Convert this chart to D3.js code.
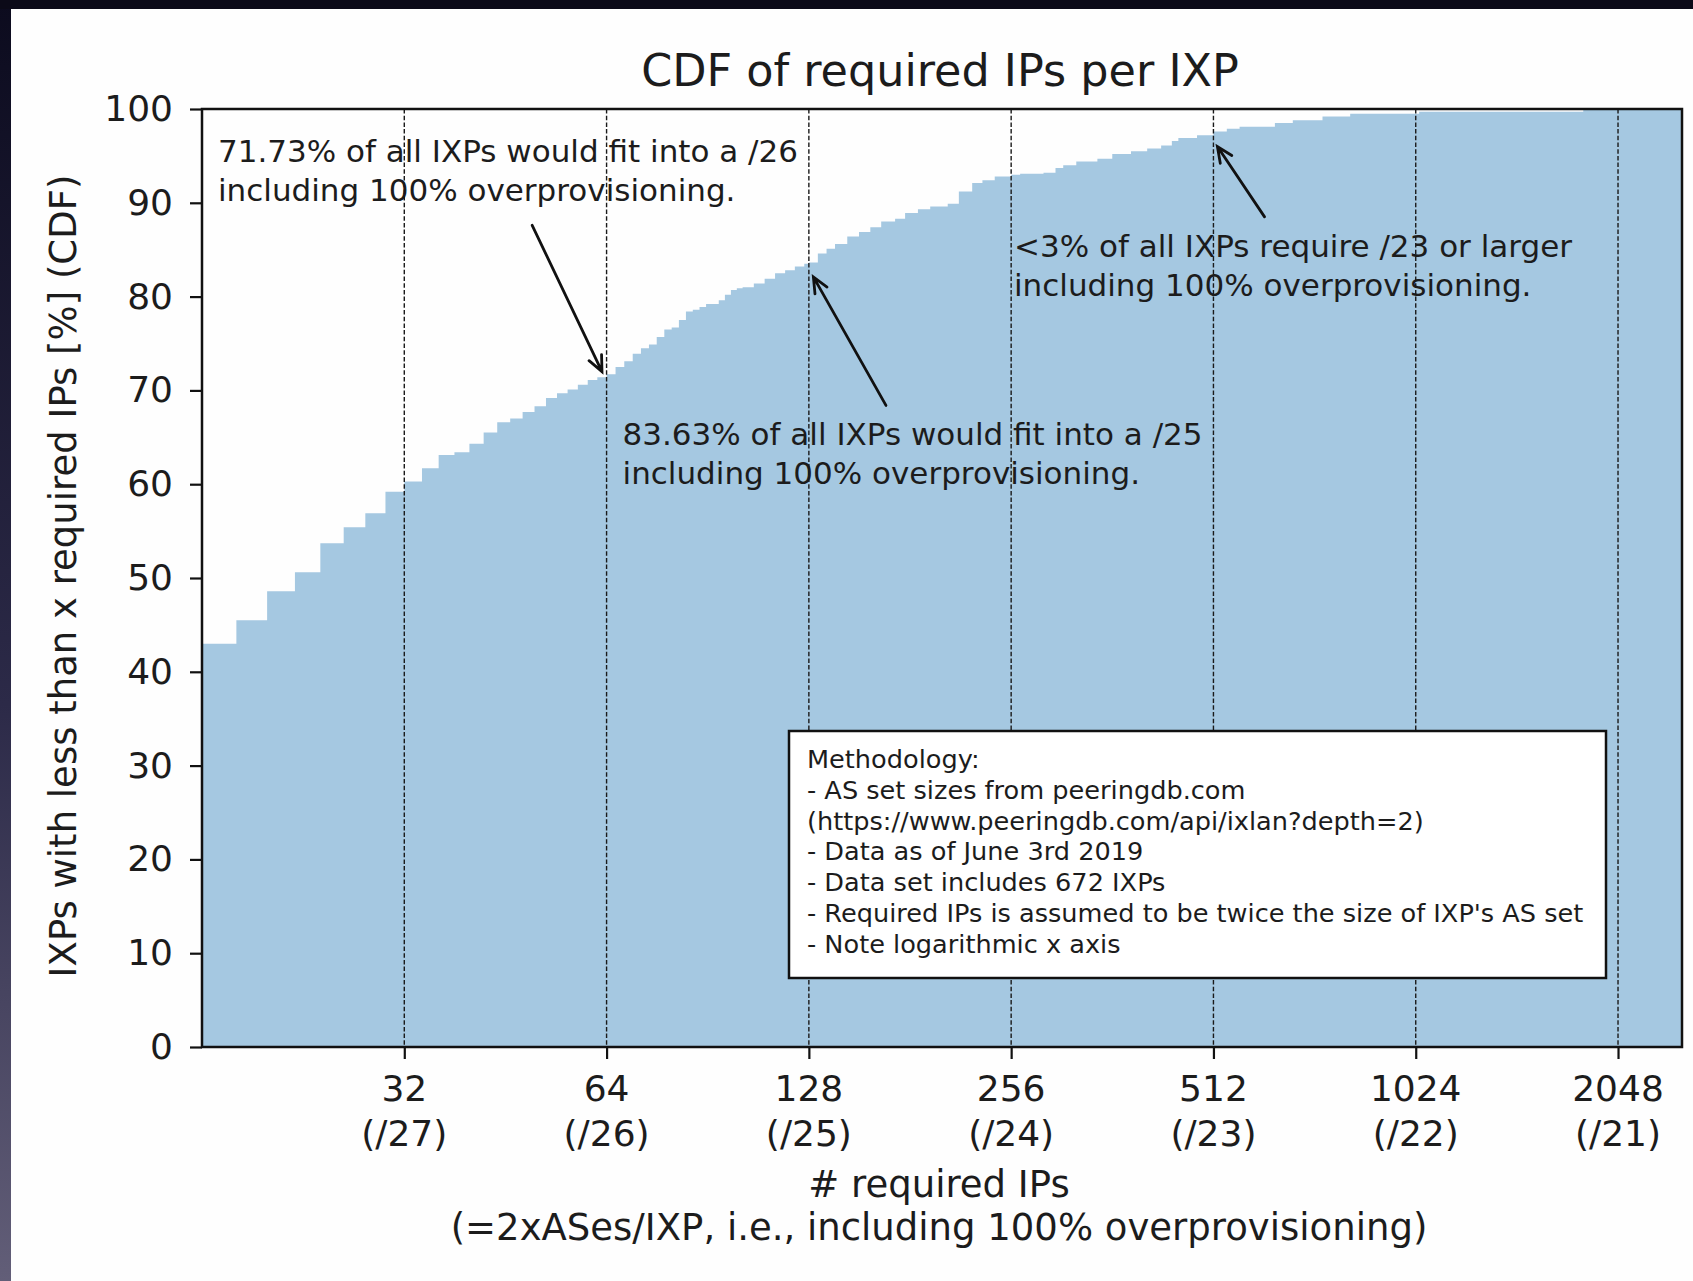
<!DOCTYPE html>
<html><head><meta charset="utf-8">
<script src="https://cdn.jsdelivr.net/npm/d3@7"></script>
<style>
body{margin:0;background:#fff}
svg{display:block}
text{font-family:"DejaVu Sans",sans-serif;fill:#1c1c1c}
</style>
</head><body>
<svg id="c" width="1693" height="1281"></svg>
<script>
// ---- data ----
const requiredIPs = [16,18,20,22,24,26,28,30,32,34,36,38,40,42,44,46,48,50,52,54,56,58,60,62,64,
  66,68,70,72,74,76,78,80,82,84,86,88,90,94,96,98,100,102,106,110,114,118,122,126,128,
  132,136,140,146,152,158,164,172,178,186,194,206,214,224,232,242,256,264,286,298,306,320,
  344,362,386,408,428,444,454,484,512,536,560,632,672,744,818,1036,1818];
const cdfPercent = [43.0,45.5,48.6,50.6,53.7,55.4,56.9,59.2,60.3,61.7,63.1,63.4,64.3,65.5,66.6,67.0,67.7,68.3,69.2,69.7,70.1,70.6,71.1,71.4,71.73,
  72.5,73.1,73.9,74.5,74.9,75.7,76.5,76.7,77.5,78.4,78.6,78.9,79.2,79.6,80.2,80.7,80.9,81.0,81.4,81.9,82.5,82.8,83.2,83.5,83.63,
  84.6,85.1,85.6,86.4,86.9,87.4,88.0,88.3,88.9,89.3,89.6,89.9,91.2,92.1,92.4,92.8,93.0,93.1,93.2,93.7,94.0,94.4,
  94.7,95.2,95.5,95.8,96.1,96.6,96.9,97.2,97.6,97.9,98.1,98.5,98.8,99.2,99.5,99.7,100];
const xTickValues = [32,64,128,256,512,1024,2048];
const xTickPrefixes = ["/27","/26","/25","/24","/23","/22","/21"];
const yTickValues = [0,10,20,30,40,50,60,70,80,90,100];
const xDomain = [16,2550];
const yDomain = [0,100];

const titleText = "CDF of required IPs per IXP";
const yLabelText = "IXPs with less than x required IPs [%] (CDF)";
const xLabelLines = ["# required IPs","(=2xASes/IXP, i.e., including 100% overprovisioning)"];
const noteLines = [
  ["71.73% of all IXPs would fit into a /26","including 100% overprovisioning."],
  ["83.63% of all IXPs would fit into a /25","including 100% overprovisioning."],
  ["<3% of all IXPs require /23 or larger","including 100% overprovisioning."]
];
const noteAnchors = [[16.9,94.3],[67.6,64.2],[258.5,84.25]];   // text anchor (data coords)
const arrowTails = [[49.6,87.6],[166.7,68.4],[610,88.5]];
const arrowHeads = [[63,72.0],[130,82.1],[519,96.0]];
const methodologyLines = [
  "Methodology:",
  "- AS set sizes from peeringdb.com",
  "(https://www.peeringdb.com/api/ixlan?depth=2)",
  "- Data as of June 3rd 2019",
  "- Data set includes 672 IXPs",
  "- Required IPs is assumed to be twice the size of IXP's AS set",
  "- Note logarithmic x axis"
];

// ---- layout ----
const W = 1693, H = 1281;
const L = 202, R = 1682, T = 109, B = 1047;
const svg = d3.select("#c");

// dark photo frame
const defs = svg.append("defs");
const g1 = defs.append("linearGradient").attr("id","lg").attr("x1",0).attr("y1",0).attr("x2",0).attr("y2",1);
g1.append("stop").attr("offset","0%").attr("stop-color","#0c0b1e");
g1.append("stop").attr("offset","55%").attr("stop-color","#2c2a48");
g1.append("stop").attr("offset","100%").attr("stop-color","#625e78");
svg.append("rect").attr("x",0).attr("y",0).attr("width",W).attr("height",H).attr("fill","#fefefe");
svg.append("rect").attr("x",0).attr("y",0).attr("width",11).attr("height",H).attr("fill","url(#lg)");
svg.append("rect").attr("x",0).attr("y",0).attr("width",W).attr("height",9).attr("fill","#0b0a18");

const x = d3.scaleLog().base(2).domain(xDomain).range([L,R]);
const y = d3.scaleLinear().domain(yDomain).range([B,T]);

// CDF fill
const pts = requiredIPs.map((v,i)=>[v,cdfPercent[i]]);
pts.push([xDomain[1], cdfPercent[cdfPercent.length-1]]);
const area = d3.area().x(d=>x(d[0])).y0(y(0)).y1(d=>y(d[1])).curve(d3.curveStepAfter);
svg.append("path").datum(pts).attr("d",area).attr("fill","#a5c8e1");

// annotation texts
noteLines.forEach((lines,i)=>{
  const t = svg.append("text").attr("x",x(noteAnchors[i][0])).attr("y",y(noteAnchors[i][1]))
    .attr("font-size",31);
  lines.forEach((s,j)=>t.append("tspan").attr("x",x(noteAnchors[i][0])).attr("dy", j===0?0:39).text(s));
});

// dashed verticals
svg.append("g").selectAll("line").data(xTickValues).join("line")
  .attr("x1",d=>x(d)).attr("x2",d=>x(d)).attr("y1",T).attr("y2",B)
  .attr("stroke","#1a1a1a").attr("stroke-width",1.4).attr("stroke-dasharray","4.5,2.2");

// arrows
arrowTails.forEach((tl,i)=>{
  const x0 = x(tl[0]), y0 = y(tl[1]), x1 = x(arrowHeads[i][0]), y1 = y(arrowHeads[i][1]);
  const ang = Math.atan2(y1-y0, x1-x0), hl = 17, ha = 0.42;
  const p = d3.path();
  p.moveTo(x0,y0); p.lineTo(x1,y1);
  p.moveTo(x1 - hl*Math.cos(ang-ha), y1 - hl*Math.sin(ang-ha)); p.lineTo(x1,y1);
  p.lineTo(x1 - hl*Math.cos(ang+ha), y1 - hl*Math.sin(ang+ha));
  svg.append("path").attr("d",p.toString()).attr("fill","none").attr("stroke","#111")
    .attr("stroke-width",2.8).attr("stroke-linecap","round").attr("stroke-linejoin","miter");
});

// methodology box
const bx = 789, by = 731, bw = 817, bh = 247;
svg.append("rect").attr("x",bx).attr("y",by).attr("width",bw).attr("height",bh)
  .attr("fill","#fff").attr("stroke","#111").attr("stroke-width",2.5);
const mt = svg.append("text").attr("font-size",25.6);
methodologyLines.forEach((s,j)=>mt.append("tspan").attr("x",bx+18).attr("y",by+37+j*30.8).text(s));

// spines
svg.append("rect").attr("x",L).attr("y",T).attr("width",R-L).attr("height",B-T)
  .attr("fill","none").attr("stroke","#111").attr("stroke-width",2.5);

// y axis
const ya = svg.append("g").attr("transform",`translate(${L},0)`)
  .call(d3.axisLeft(y).tickValues(yTickValues).tickSize(12).tickPadding(17).tickFormat(d3.format("d")));
ya.select(".domain").remove();
ya.selectAll(".tick line").attr("stroke","#111").attr("stroke-width",2.2);
ya.selectAll(".tick text").attr("font-size",36).attr("font-family","DejaVu Sans").attr("fill","#1c1c1c");

// x axis
const xa = svg.append("g").attr("transform",`translate(0,${B})`)
  .call(d3.axisBottom(x).tickValues(xTickValues).tickSize(12).tickFormat(()=>""));
xa.select(".domain").remove();
xa.selectAll(".tick line").attr("stroke","#111").attr("stroke-width",2.2);
xa.selectAll(".tick text").remove();
const xl = svg.append("g");
xTickValues.forEach((v,i)=>{
  const t = xl.append("text").attr("text-anchor","middle").attr("font-size",36);
  t.append("tspan").attr("x",x(v)).attr("y",B+54).text(String(v));
  t.append("tspan").attr("x",x(v)).attr("y",B+99).text("(" + xTickPrefixes[i] + ")");
});

// labels
svg.append("text").attr("x",(L+R)/2 - 2).attr("y",86).attr("text-anchor","middle").attr("font-size",44.5).text(titleText);
xLabelLines.forEach((s,j)=>svg.append("text").attr("x",(L+R)/2 - 3).attr("y",1197+j*43)
  .attr("text-anchor","middle").attr("font-size",37).text(s));
svg.append("text").attr("transform",`translate(76,${(T+B)/2 - 2}) rotate(-90)`)
  .attr("text-anchor","middle").attr("font-size",37).text(yLabelText);
</script>
</body></html>
